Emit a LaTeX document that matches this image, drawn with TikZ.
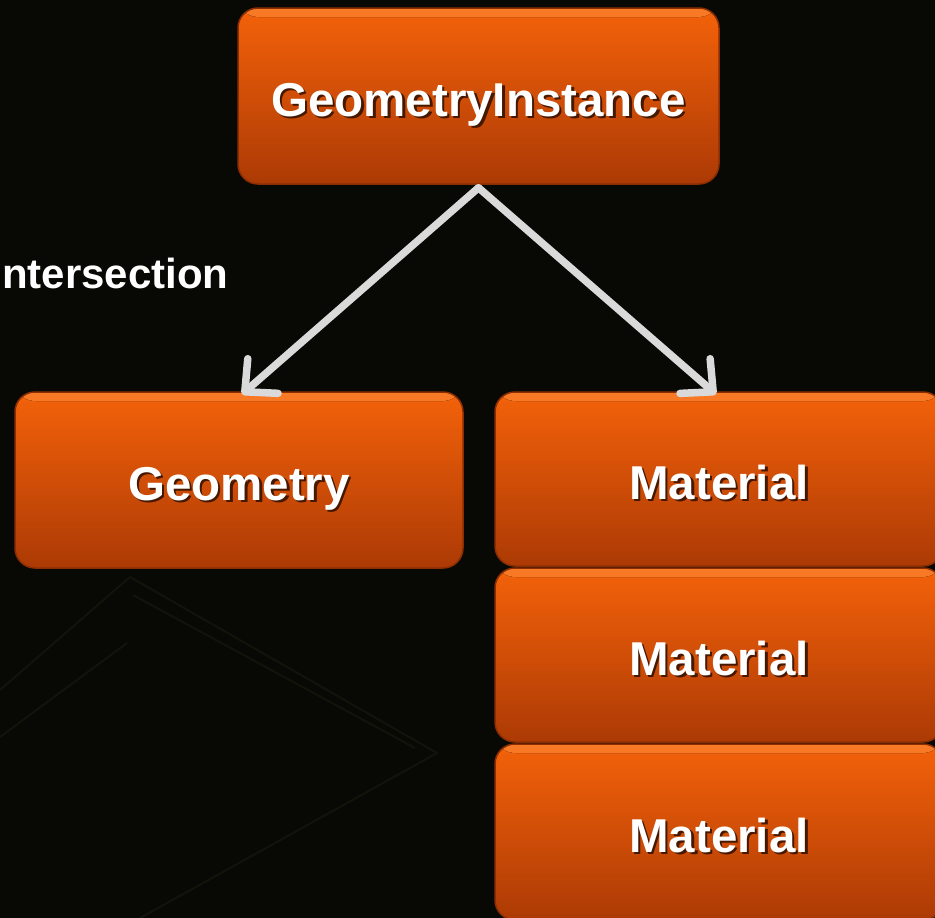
\documentclass[tikz,border=0pt]{standalone}
\usepackage{fontspec}
\setmainfont{Liberation Sans}
\usetikzlibrary{arrows.meta}
\definecolor{bgc}{RGB}{8,8,4}
\definecolor{faint}{RGB}{19,19,11}
\definecolor{orHi}{RGB}{248,122,38}
\definecolor{orTop}{RGB}{244,98,10}
\definecolor{orMid}{RGB}{222,82,6}
\definecolor{orBot}{RGB}{172,58,5}
\definecolor{orEdge}{RGB}{140,46,4}
\definecolor{shadowc}{RGB}{70,24,0}
\definecolor{arrowc}{RGB}{218,218,218}
\newcommand{\shtxt}[1]{\makebox[0pt][l]{\hspace{2.5pt}\raisebox{-2.5pt}{\color{shadowc}#1}}#1}
\tikzset{
  box/.style={rounded corners=20pt, top color=orTop, middle color=orMid, bottom color=orBot,
    draw=orEdge, line width=1.5pt, minimum width=448pt, minimum height=176pt,
    inner sep=0pt, text=white, text height=40pt, text depth=0pt,
    font=\bfseries\fontsize{47.5}{52}\selectfont,
    path picture={\fill[top color=orHi, bottom color=orTop]
      (path picture bounding box.north west) rectangle
      ([yshift=-9pt]path picture bounding box.north east);}},
  conn/.style={draw=arrowc, line width=7.5pt, line cap=round,
    -{Straight Barb[length=24pt,width=46pt,line cap=round,line join=round]}},
  label/.style={text=white, font=\bfseries\fontsize{42}{46}\selectfont, inner sep=0pt}
}
\begin{document}
\begin{tikzpicture}[x=1pt,y=-1pt]
\useasboundingbox (0,0) rectangle (935,918);
\clip (0,0) rectangle (935,918);
\fill[bgc] (0,0) rectangle (935,918);
% faint background frame
\draw[faint, line width=2pt] (0,690) -- (130,577) -- (437,753) -- (140,918);
\draw[faint, line width=2pt] (0,737) -- (127,643);
\draw[faint, line width=2pt] (133,595) -- (415,748);
% nodes
\node[box, minimum width=481pt] (gi) at (478.5,96) {\shtxt{GeometryInstance}};
\node[box] (geo) at (239,480) {\shtxt{Geometry}};
\node[box, minimum height=174pt] (m1) at (719,479) {\shtxt{Material}};
\node[box, minimum height=174pt] (m2) at (719,655) {\shtxt{Material}};
\node[box] (m3) at (719,832) {\shtxt{Material}};
\node[label, anchor=base west] (isect) at (2,288) {ntersection};
% connectors
\draw[conn] ([yshift=-3pt]gi.south) -- ([xshift=3pt,yshift=-3pt]geo.north);
\draw[conn] ([yshift=-3pt]gi.south) -- ([xshift=-3pt,yshift=-3pt]m1.north);
\end{tikzpicture}
\end{document}
